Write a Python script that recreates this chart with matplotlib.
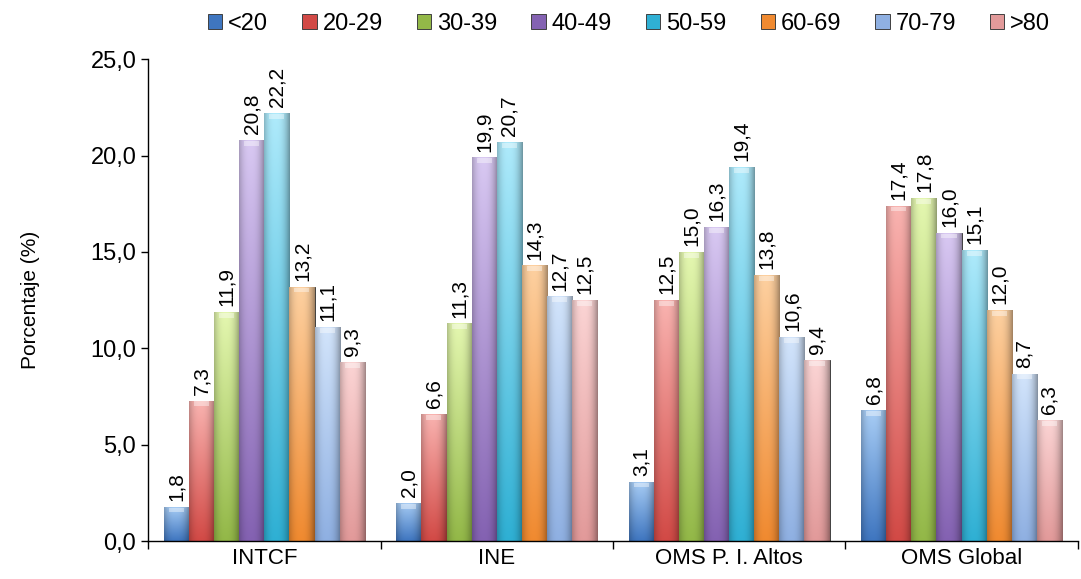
import matplotlib
matplotlib.use("Agg")
import matplotlib.pyplot as plt
import numpy as np
from matplotlib.colors import to_rgb
from matplotlib.ticker import FuncFormatter

plt.rcParams["font.family"] = ["Liberation Sans", "DejaVu Sans"]

groups = ["INTCF", "INE", "OMS P. I. Altos", "OMS Global"]
age_bins = ["<20", "20-29", "30-39", "40-49", "50-59", "60-69", "70-79", ">80"]
values = {
    "<20": [1.8, 2.0, 3.1, 6.8],
    "20-29": [7.3, 6.6, 12.5, 17.4],
    "30-39": [11.9, 11.3, 15.0, 17.8],
    "40-49": [20.8, 19.9, 16.3, 16.0],
    "50-59": [22.2, 20.7, 19.4, 15.1],
    "60-69": [13.2, 14.3, 13.8, 12.0],
    "70-79": [11.1, 12.7, 10.6, 8.7],
    ">80": [9.3, 12.5, 9.4, 6.3],
}

# (top, bottom) colours per series, Excel-like gradient look
palette = [
    ("#a8cdf5", "#3f76c0"),
    ("#f9b3b0", "#d24a46"),
    ("#e4f7b0", "#93b848"),
    ("#d8c8f2", "#8462b2"),
    ("#aeeafb", "#2fb0d4"),
    ("#fdd0a0", "#f08a30"),
    ("#d2e4fb", "#8fb0e2"),
    ("#fbd4d4", "#e29a9a"),
]

fig, ax = plt.subplots(figsize=(10.81, 5.79), dpi=100)
fig.subplots_adjust(left=0.137, right=0.997, bottom=0.065, top=0.898)

x = np.arange(len(groups))
width = 0.108
n = len(age_bins)

u = np.linspace(0, 1, 40)
v = np.linspace(0, 1, 60)
U, V = np.meshgrid(u, v)
shade = 1 - 0.28 * (np.abs(U - 0.45) * 2) ** 2.5

handles = []
for i, name in enumerate(age_bins):
    top_c, bot_c = (np.array(to_rgb(c)) for c in palette[i])
    img = top_c * (1 - V[..., None]) + bot_c * V[..., None]
    img = np.clip(img * shade[..., None], 0, 1)
    offs = (i - (n - 1) / 2) * width
    bars = ax.bar(x + offs, values[name], width, color=palette[i][1],
                  edgecolor="#404040", linewidth=0.7, label=name, zorder=2)
    for b in bars:
        bx, by = b.get_x(), b.get_y()
        bw, bh = b.get_width(), b.get_height()
        im = ax.imshow(img, extent=[bx, bx + bw, by, by + bh], origin="upper",
                       aspect="auto", zorder=2.5, interpolation="bilinear")
        im.set_clip_path(b)
        ax.fill_between([bx + bw * 0.2, bx + bw * 0.8], by + bh - 0.3, by + bh - 0.05,
                        color="white", alpha=0.4, zorder=2.6, linewidth=0)
        ax.text(bx + bw / 2, by + bh + 0.3, f"{bh:.1f}".replace(".", ","),
                rotation=90, ha="center", va="bottom", fontsize=15, zorder=3)
    handles.append(bars)

ax.set_xlim(-0.5, len(groups) - 0.5)
ax.set_ylim(0, 25)
ax.set_yticks(np.arange(0, 25.1, 5))
ax.yaxis.set_major_formatter(FuncFormatter(lambda val, p: f"{val:.1f}".replace(".", ",")))
ax.set_xticks(x)
ax.set_xticklabels(groups, fontsize=16)
ax.tick_params(axis="x", length=0, pad=5)
ax.set_xticks(np.arange(-0.5, len(groups)), minor=True)
ax.tick_params(axis="x", which="minor", length=6, width=1)
ax.tick_params(axis="y", labelsize=17, length=5, width=1, direction="out")
ax.set_ylabel("Porcentaje (%)", fontsize=15, labelpad=36)
for s in ["top", "right"]:
    ax.spines[s].set_visible(False)
ax.spines["left"].set_linewidth(1)
ax.spines["bottom"].set_linewidth(1)

fig.legend(handles=handles, labels=age_bins, loc="upper center", ncol=8,
           bbox_to_anchor=(0.582, 1.015), frameon=False, fontsize=17,
           handlelength=0.6, handleheight=0.6, handletextpad=0.25,
           columnspacing=1.45)

fig.savefig("out.png", dpi=100)
